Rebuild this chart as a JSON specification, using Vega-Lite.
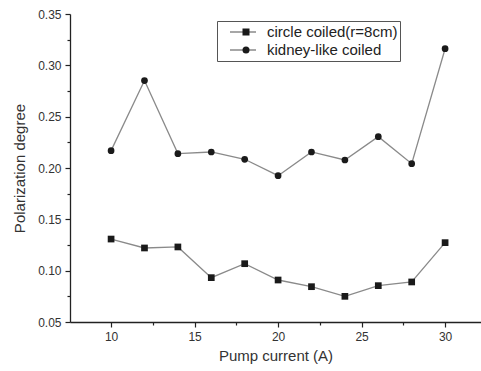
{
  "$schema": "https://vega.github.io/schema/vega-lite/v6.json",
  "width": 411,
  "height": 308,
  "autosize": {"type": "none"},
  "padding": {"left": 70, "top": 14, "right": 0, "bottom": 49},
  "background": "white",
  "config": {
    "view": {"stroke": null},
    "font": "Liberation Sans",
    "axis": {"grid": false, "domainColor": "#222", "tickColor": "#222", "domainWidth": 1.3, "tickWidth": 1.2, "labelColor": "#333", "titleColor": "#333", "labelFont": "Liberation Sans", "titleFont": "Liberation Sans", "titleFontWeight": "normal"}
  },
  "data": {
    "values": [
      {"current": 10, "polarization": 0.1308, "series": "circle coiled(r=8cm)"},
      {"current": 12, "polarization": 0.1221, "series": "circle coiled(r=8cm)"},
      {"current": 14, "polarization": 0.1231, "series": "circle coiled(r=8cm)"},
      {"current": 16, "polarization": 0.0932, "series": "circle coiled(r=8cm)"},
      {"current": 18, "polarization": 0.1068, "series": "circle coiled(r=8cm)"},
      {"current": 20, "polarization": 0.0909, "series": "circle coiled(r=8cm)"},
      {"current": 22, "polarization": 0.0844, "series": "circle coiled(r=8cm)"},
      {"current": 24, "polarization": 0.0750, "series": "circle coiled(r=8cm)"},
      {"current": 26, "polarization": 0.0854, "series": "circle coiled(r=8cm)"},
      {"current": 28, "polarization": 0.0890, "series": "circle coiled(r=8cm)"},
      {"current": 30, "polarization": 0.1273, "series": "circle coiled(r=8cm)"},
      {"current": 10, "polarization": 0.2169, "series": "kidney-like coiled"},
      {"current": 12, "polarization": 0.2852, "series": "kidney-like coiled"},
      {"current": 14, "polarization": 0.2140, "series": "kidney-like coiled"},
      {"current": 16, "polarization": 0.2156, "series": "kidney-like coiled"},
      {"current": 18, "polarization": 0.2085, "series": "kidney-like coiled"},
      {"current": 20, "polarization": 0.1925, "series": "kidney-like coiled"},
      {"current": 22, "polarization": 0.2156, "series": "kidney-like coiled"},
      {"current": 24, "polarization": 0.2078, "series": "kidney-like coiled"},
      {"current": 26, "polarization": 0.2305, "series": "kidney-like coiled"},
      {"current": 28, "polarization": 0.2042, "series": "kidney-like coiled"},
      {"current": 30, "polarization": 0.3162, "series": "kidney-like coiled"}
    ]
  },
  "resolve": {"axis": {"x": "independent", "y": "independent"}},
  "layer": [
    {
      "mark": {"type": "line", "strokeWidth": 1.3},
      "encoding": {
        "x": {"field": "current", "type": "quantitative", "scale": {"domain": [7.54, 32.15], "nice": false, "zero": false},
          "axis": {"title": "Pump current (A)", "orient": "bottom", "values": [10, 15, 20, 25, 30], "tickSize": 5, "labelPadding": 4, "labelFontSize": 12, "titleFontSize": 15, "titlePadding": 6}},
        "y": {"field": "polarization", "type": "quantitative", "scale": {"domain": [0.05, 0.35], "nice": false, "zero": false},
          "axis": {"title": "Polarization degree", "orient": "left", "values": [0.05, 0.1, 0.15, 0.2, 0.25, 0.3, 0.35], "format": ".2f", "tickSize": 5, "labelPadding": 4, "labelFontSize": 12, "titleFontSize": 15, "titlePadding": 10}},
        "color": {"field": "series", "type": "nominal",
          "scale": {"domain": ["circle coiled(r=8cm)", "kidney-like coiled", "other"], "range": ["#8a8a8a", "#8a8a8a", "#8a8a8a"]},
          "legend": {"title": null, "orient": "none", "legendX": 147, "legendY": 7, "values": ["circle coiled(r=8cm)", "kidney-like coiled"], "strokeColor": "#555", "padding": 2, "labelFontSize": 15, "labelColor": "#222", "symbolType": "stroke", "symbolSize": 676, "symbolStrokeWidth": 1.3, "clipHeight": 18, "rowPadding": 0, "symbolOffset": 10, "labelOffset": 10}}
      }
    },
    {
      "mark": {"type": "point", "filled": true, "opacity": 1, "size": 45, "color": "#1a1a1a"},
      "encoding": {
        "x": {"field": "current", "type": "quantitative",
          "axis": {"title": null, "orient": "bottom", "values": [12.5, 17.5, 22.5, 27.5], "labels": false, "domain": false, "tickSize": 3}},
        "y": {"field": "polarization", "type": "quantitative",
          "axis": {"title": null, "orient": "left", "values": [0.075, 0.125, 0.175, 0.225, 0.275, 0.325], "labels": false, "domain": false, "tickSize": 3}},
        "shape": {"field": "series", "type": "nominal",
          "scale": {"domain": ["circle coiled(r=8cm)", "kidney-like coiled"], "range": ["square", "circle"]},
          "legend": {"title": null, "orient": "none", "legendX": 147, "legendY": 7, "padding": 2, "labelFontSize": 15, "labelExpr": "''", "symbolSize": 49, "clipHeight": 18, "rowPadding": 0, "symbolOffset": 19.5, "labelOffset": 11}}
      }
    }
  ]
}
